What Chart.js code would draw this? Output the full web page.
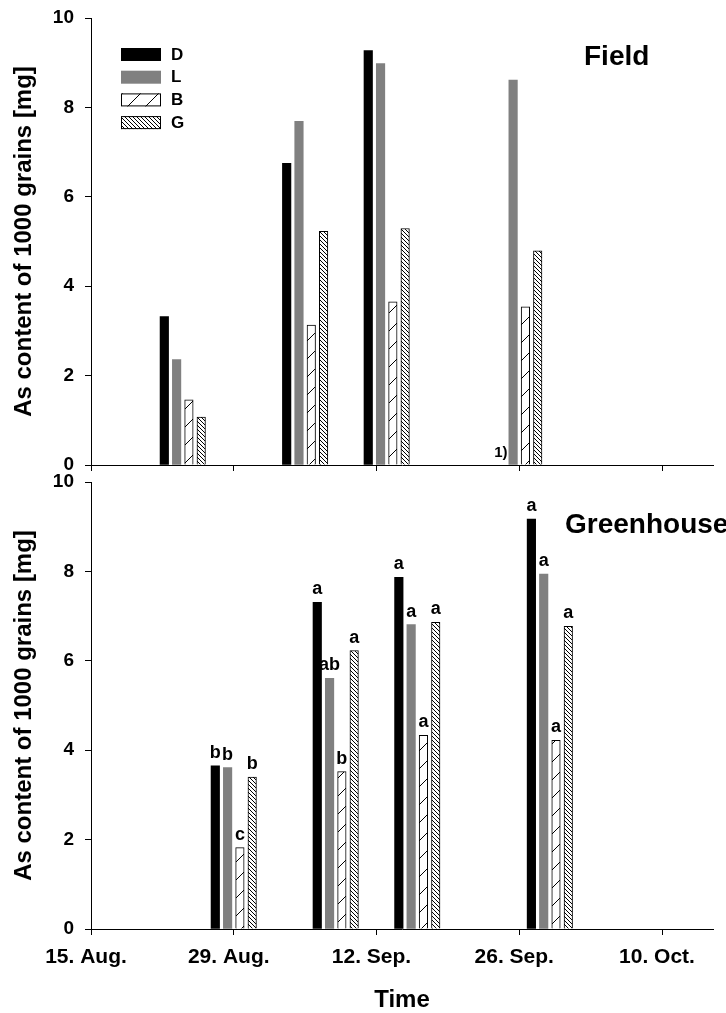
<!DOCTYPE html>
<html>
<head>
<meta charset="utf-8">
<title>As content of 1000 grains</title>
<script src="https://cdn.jsdelivr.net/npm/chart.js@4.4.1/dist/chart.umd.min.js"></script>
<style>
  body { margin: 0; background: #fff; }
  #wrap { position: relative; width: 726px; height: 1013px; }
  canvas { position: absolute; left: 0; }
  #field { top: 0; }
  #house { top: 468px; }
</style>
</head>
<body>
<div id="wrap">
  <canvas id="field" width="726" height="474"></canvas>
  <canvas id="house" width="726" height="545"></canvas>
</div>
<script>
// time axis is in days counted from 15 Aug
const tickDays = [0, 14, 28, 42, 56];
const tickLabels = ['15. Aug.', '29. Aug.', '12. Sep.', '26. Sep.', '10. Oct.'];
const lastDay = 61;
const yTicks = [0, 2, 4, 6, 8, 10];

const seriesNames = ['D', 'L', 'B', 'G'];

// Field
const fieldDays = [9, 21, 29, 42];
const fieldD = [3.32, 6.75, 9.27, null];
const fieldL = [2.36, 7.69, 8.98, 8.61];
const fieldB = [1.46, 3.13, 3.65, 3.54];
const fieldG = [1.07, 5.23, 5.29, 4.79];
const fieldNotesD = ['', '', '', '1)'];

// Greenhouse
const houseDays = [14, 24, 32, 45];
const houseD = [3.65, 7.31, 7.87, 9.17];
const houseL = [3.61, 5.61, 6.81, 7.94];
const houseB = [1.82, 3.52, 4.33, 4.22];
const houseG = [3.40, 6.23, 6.86, 6.77];
const houseLettersD = ['b', 'a', 'a', 'a'];
const houseLettersL = ['b', 'ab', 'a', 'a'];
const houseLettersB = ['c', 'b', 'a', 'a'];
const houseLettersG = ['b', 'a', 'a', 'a'];

Chart.defaults.font.family = '"Liberation Sans", Arial, sans-serif';
Chart.defaults.color = '#000';

function hatch(ctx, size, dir) {
  const tile = document.createElement('canvas');
  tile.width = tile.height = size;
  const g = tile.getContext('2d');
  g.fillStyle = '#fff';
  g.fillRect(0, 0, size, size);
  g.strokeStyle = '#000';
  g.lineWidth = 1;
  g.beginPath();
  if (dir === '/') {
    g.moveTo(-1, size + 1); g.lineTo(size + 1, -1);
    g.moveTo(-1, 1); g.lineTo(1, -1);
    g.moveTo(size - 1, size + 1); g.lineTo(size + 1, size - 1);
  } else {
    g.moveTo(-1, -1); g.lineTo(size + 1, size + 1);
    g.moveTo(-1, size - 1); g.lineTo(1, size + 1);
    g.moveTo(size - 1, -1); g.lineTo(size + 1, 1);
  }
  g.stroke();
  return ctx.createPattern(tile, 'repeat');
}

function styleFor(ctx, name) {
  if (name === 'D') return { backgroundColor: '#000', borderWidth: 0 };
  if (name === 'L') return { backgroundColor: '#808080', borderWidth: 0 };
  if (name === 'B') return { backgroundColor: hatch(ctx, 18, '/'), borderColor: '#000', borderWidth: 1 };
  return { backgroundColor: hatch(ctx, 4, '\\'), borderColor: '#000', borderWidth: 1 };
}

function makeDatasets(ctx, days, values, notes) {
  return seriesNames.map((name, i) => Object.assign({
    label: name,
    data: days.map((d, j) => ({ x: d, y: values[i][j] })),
    notes: notes[i],
    barThickness: 12.3,     // slot per bar
    maxBarThickness: 8.5    // drawn width, leaves a gap
  }, styleFor(ctx, name)));
}

function makeScales(bottomAxis) {
  return {
    x: {
      type: 'linear', min: 0, max: lastDay, offset: false,
      afterBuildTicks: s => { s.ticks = tickDays.map(v => ({ value: v })); },
      afterFit: s => { s.height = bottomAxis ? 84 : 9; },
      grid: { drawOnChartArea: false, offset: false, tickLength: 6, color: '#000' },
      border: { color: '#000', width: 1 },
      ticks: {
        display: bottomAxis, padding: 10, labelOffset: -5, maxRotation: 0, autoSkip: false,
        font: { size: 21, weight: 'bold' },
        callback: v => tickLabels[tickDays.indexOf(v)] || ''
      },
      title: {
        display: bottomAxis, text: 'Time',
        font: { size: 24, weight: 'bold', lineHeight: 1 },
        padding: { top: 0, bottom: 1 }
      }
    },
    y: {
      min: 0, max: 10,
      afterBuildTicks: s => { s.ticks = yTicks.map(v => ({ value: v })); },
      afterFit: s => {
        s.width = 91;
        // labels may overhang the plot; keep the plot size fixed
        s.paddingTop = 0;
        s.paddingBottom = 0;
      },
      grid: { drawOnChartArea: false, tickLength: 6, color: '#000' },
      border: { color: '#000', width: 1 },
      ticks: { padding: 11, font: { size: 19, weight: 'bold' } },
      title: {
        display: true, text: 'As content of 1000 grains [mg]',
        font: { size: 24, weight: 'bold', lineHeight: 1 },
        padding: { top: 12, bottom: 0 }
      }
    }
  };
}

// letters / footnotes above bars, and the panel name
const annotate = {
  id: 'annotate',
  afterDatasetsDraw(chart, args, opts) {
    const { ctx, chartArea } = chart;
    ctx.save();
    ctx.fillStyle = '#000';
    ctx.textAlign = 'center';
    ctx.textBaseline = 'alphabetic';
    ctx.font = 'bold ' + opts.noteSize + 'px "Liberation Sans", Arial, sans-serif';
    chart.data.datasets.forEach((ds, i) => {
      if (!ds.notes) return;
      chart.getDatasetMeta(i).data.forEach((bar, j) => {
        const t = ds.notes[j];
        if (t) ctx.fillText(t, bar.x, bar.y - 8);
      });
    });
    ctx.textAlign = 'left';
    ctx.font = 'bold 28px "Liberation Sans", Arial, sans-serif';
    ctx.fillText(opts.title, chartArea.left + opts.titleX, chartArea.top + opts.titleY);
    ctx.restore();
  }
};

// legend drawn inside the plot, top left
const innerLegend = {
  id: 'innerLegend',
  afterDatasetsDraw(chart, args, opts) {
    if (!opts.show) return;
    const { ctx, chartArea } = chart;
    ctx.save();
    ctx.font = 'bold 17px "Liberation Sans", Arial, sans-serif';
    ctx.textBaseline = 'middle';
    ctx.textAlign = 'left';
    chart.data.datasets.forEach((ds, i) => {
      const x = chartArea.left + 30;
      const y = chartArea.top + 30 + i * 22.7;
      ctx.fillStyle = ds.backgroundColor;
      ctx.fillRect(x, y, 40, 13);
      if (ds.borderWidth) {
        ctx.strokeStyle = '#000';
        ctx.lineWidth = 1;
        ctx.strokeRect(x + 0.5, y + 0.5, 39, 12);
      }
      ctx.fillStyle = '#000';
      ctx.fillText(ds.label, x + 50, y + 7);
    });
    ctx.restore();
  }
};

function makeChart(id, days, values, notes, panel) {
  const canvas = document.getElementById(id);
  const ctx = canvas.getContext('2d');
  return new Chart(canvas, {
    type: 'bar',
    data: { datasets: makeDatasets(ctx, days, values, notes) },
    options: {
      responsive: false,
      animation: false,
      layout: { padding: { top: panel.padTop, right: 13, left: 0, bottom: 0 } },
      scales: makeScales(panel.bottomAxis),
      plugins: {
        legend: { display: false },
        tooltip: { enabled: false },
        innerLegend: { show: panel.legend },
        annotate: { title: panel.title, titleX: panel.titleX, titleY: panel.titleY, noteSize: panel.noteSize }
      }
    },
    plugins: [annotate, innerLegend]
  });
}

makeChart('field', fieldDays,
  [fieldD, fieldL, fieldB, fieldG],
  [fieldNotesD, null, null, null],
  { padTop: 18, bottomAxis: false, legend: true, title: 'Field', titleX: 493, titleY: 47, noteSize: 15 });

makeChart('house', houseDays,
  [houseD, houseL, houseB, houseG],
  [houseLettersD, houseLettersL, houseLettersB, houseLettersG],
  { padTop: 14, bottomAxis: true, legend: false, title: 'Greenhouse', titleX: 474, titleY: 51, noteSize: 18 });
</script>
</body>
</html>
